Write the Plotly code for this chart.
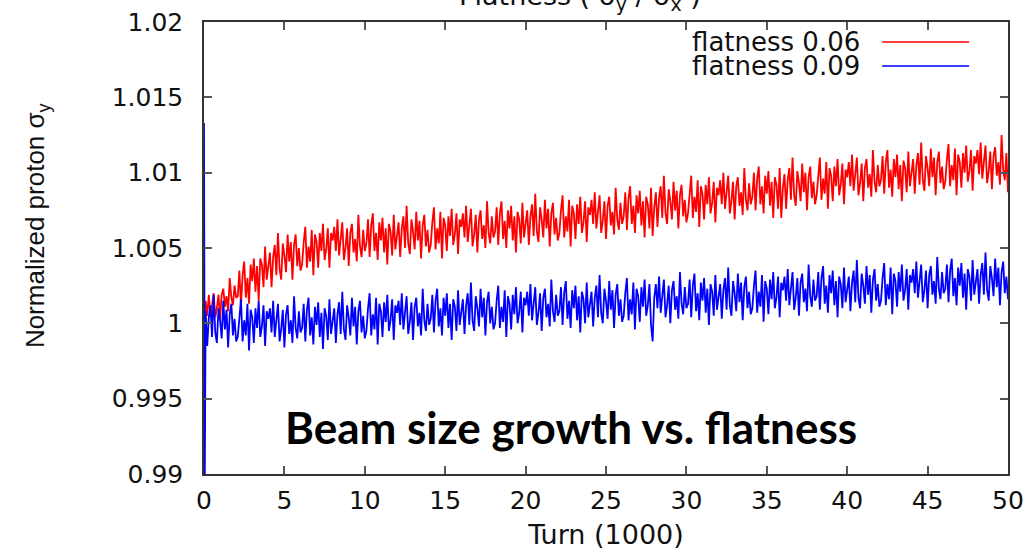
import plotly.graph_objects as go

# Turn (in units of 1000)
turns = [0.0, 0.05] + [round(0.1 * i, 1) for i in range(1, 501)]

red_y = [0.9900, 0.9995,
    1.0015, 1.0005, 1.0019, 1.0004, 1.0013, 1.0020, 1.0004, 1.0010, 1.0019, 1.0003, 1.0019, 1.0023, 1.0011, 1.0018, 1.0008, 1.0030, 1.0017, 1.0012, 1.0025, 1.0017,
    1.0018, 1.0035, 1.0011, 1.0032, 1.0041, 1.0017, 1.0030, 1.0013, 1.0039, 1.0028, 1.0043, 1.0021, 1.0038, 1.0015, 1.0043, 1.0039, 1.0024, 1.0051, 1.0029, 1.0040,
    1.0047, 1.0024, 1.0044, 1.0052, 1.0032, 1.0060, 1.0036, 1.0029, 1.0053, 1.0045, 1.0034, 1.0059, 1.0041, 1.0054, 1.0029, 1.0052, 1.0059, 1.0038, 1.0050, 1.0035,
    1.0039, 1.0054, 1.0064, 1.0037, 1.0051, 1.0041, 1.0062, 1.0032, 1.0059, 1.0054, 1.0037, 1.0060, 1.0048, 1.0066, 1.0042, 1.0049, 1.0063, 1.0037, 1.0060, 1.0055,
    1.0064, 1.0048, 1.0069, 1.0045, 1.0057, 1.0067, 1.0042, 1.0050, 1.0063, 1.0038, 1.0060, 1.0066, 1.0047, 1.0056, 1.0041, 1.0072, 1.0051, 1.0044, 1.0062, 1.0048,
    1.0053, 1.0069, 1.0044, 1.0065, 1.0073, 1.0048, 1.0060, 1.0042, 1.0067, 1.0055, 1.0070, 1.0047, 1.0063, 1.0039, 1.0066, 1.0061, 1.0045, 1.0072, 1.0049, 1.0059,
    1.0067, 1.0044, 1.0063, 1.0071, 1.0050, 1.0078, 1.0053, 1.0046, 1.0069, 1.0061, 1.0049, 1.0074, 1.0055, 1.0068, 1.0043, 1.0065, 1.0072, 1.0051, 1.0062, 1.0047,
    1.0052, 1.0067, 1.0077, 1.0049, 1.0063, 1.0053, 1.0074, 1.0043, 1.0070, 1.0065, 1.0048, 1.0071, 1.0058, 1.0076, 1.0052, 1.0059, 1.0073, 1.0046, 1.0069, 1.0064,
    1.0073, 1.0057, 1.0078, 1.0054, 1.0066, 1.0076, 1.0051, 1.0059, 1.0072, 1.0047, 1.0069, 1.0075, 1.0056, 1.0065, 1.0050, 1.0081, 1.0060, 1.0053, 1.0071, 1.0057,
    1.0061, 1.0077, 1.0052, 1.0073, 1.0081, 1.0056, 1.0068, 1.0050, 1.0075, 1.0063, 1.0078, 1.0055, 1.0071, 1.0047, 1.0074, 1.0069, 1.0053, 1.0080, 1.0057, 1.0067,
    1.0075, 1.0052, 1.0071, 1.0079, 1.0058, 1.0086, 1.0061, 1.0054, 1.0077, 1.0069, 1.0057, 1.0082, 1.0063, 1.0076, 1.0051, 1.0073, 1.0080, 1.0059, 1.0070, 1.0055,
    1.0060, 1.0075, 1.0085, 1.0057, 1.0071, 1.0061, 1.0082, 1.0051, 1.0078, 1.0073, 1.0056, 1.0079, 1.0066, 1.0084, 1.0060, 1.0067, 1.0081, 1.0054, 1.0077, 1.0072,
    1.0082, 1.0066, 1.0087, 1.0063, 1.0075, 1.0085, 1.0060, 1.0068, 1.0081, 1.0056, 1.0078, 1.0084, 1.0065, 1.0074, 1.0059, 1.0090, 1.0069, 1.0062, 1.0080, 1.0066,
    1.0071, 1.0087, 1.0062, 1.0083, 1.0091, 1.0066, 1.0078, 1.0060, 1.0085, 1.0073, 1.0088, 1.0065, 1.0081, 1.0057, 1.0084, 1.0079, 1.0063, 1.0090, 1.0058, 1.0077,
    1.0087, 1.0064, 1.0083, 1.0091, 1.0070, 1.0098, 1.0073, 1.0066, 1.0089, 1.0081, 1.0069, 1.0094, 1.0075, 1.0088, 1.0063, 1.0085, 1.0092, 1.0071, 1.0082, 1.0067,
    1.0073, 1.0088, 1.0098, 1.0070, 1.0084, 1.0074, 1.0095, 1.0064, 1.0091, 1.0086, 1.0069, 1.0092, 1.0079, 1.0097, 1.0073, 1.0080, 1.0094, 1.0067, 1.0090, 1.0085,
    1.0095, 1.0079, 1.0100, 1.0076, 1.0088, 1.0098, 1.0073, 1.0081, 1.0094, 1.0069, 1.0091, 1.0097, 1.0078, 1.0087, 1.0072, 1.0103, 1.0082, 1.0075, 1.0093, 1.0079,
    1.0084, 1.0100, 1.0075, 1.0096, 1.0104, 1.0079, 1.0091, 1.0073, 1.0098, 1.0086, 1.0101, 1.0078, 1.0094, 1.0070, 1.0097, 1.0092, 1.0076, 1.0103, 1.0070, 1.0090,
    1.0099, 1.0076, 1.0095, 1.0103, 1.0082, 1.0110, 1.0085, 1.0078, 1.0101, 1.0093, 1.0081, 1.0106, 1.0087, 1.0100, 1.0075, 1.0097, 1.0104, 1.0083, 1.0094, 1.0079,
    1.0085, 1.0100, 1.0110, 1.0082, 1.0096, 1.0086, 1.0107, 1.0076, 1.0103, 1.0098, 1.0081, 1.0104, 1.0091, 1.0109, 1.0085, 1.0092, 1.0106, 1.0079, 1.0102, 1.0097,
    1.0107, 1.0091, 1.0112, 1.0088, 1.0100, 1.0110, 1.0085, 1.0093, 1.0106, 1.0081, 1.0103, 1.0109, 1.0090, 1.0099, 1.0084, 1.0115, 1.0094, 1.0087, 1.0105, 1.0091,
    1.0095, 1.0111, 1.0086, 1.0107, 1.0115, 1.0090, 1.0102, 1.0084, 1.0109, 1.0097, 1.0112, 1.0089, 1.0105, 1.0081, 1.0108, 1.0103, 1.0087, 1.0114, 1.0091, 1.0101,
    1.0109, 1.0086, 1.0105, 1.0113, 1.0092, 1.0120, 1.0095, 1.0088, 1.0111, 1.0103, 1.0091, 1.0116, 1.0097, 1.0110, 1.0085, 1.0107, 1.0114, 1.0093, 1.0104, 1.0089,
    1.0094, 1.0109, 1.0119, 1.0091, 1.0105, 1.0095, 1.0116, 1.0085, 1.0112, 1.0107, 1.0090, 1.0113, 1.0100, 1.0118, 1.0094, 1.0101, 1.0115, 1.0088, 1.0111, 1.0106,
    1.0115, 1.0099, 1.0120, 1.0096, 1.0108, 1.0118, 1.0093, 1.0101, 1.0114, 1.0089, 1.0111, 1.0117, 1.0098, 1.0107, 1.0092, 1.0125, 1.0102, 1.0095, 1.0113, 1.0087]

blue_y = [1.0133, 0.9900,
    1.0008, 0.9985, 1.0004, 1.0012, 0.9991, 1.0019, 0.9994, 0.9987, 1.0010, 1.0002, 0.9990, 1.0015, 0.9996, 1.0009, 0.9984, 1.0006, 1.0013, 0.9992, 1.0003, 0.9988,
    0.9991, 1.0006, 1.0016, 0.9988, 1.0002, 0.9992, 1.0013, 0.9982, 1.0009, 1.0004, 0.9987, 1.0010, 0.9997, 1.0015, 0.9991, 0.9998, 1.0012, 0.9985, 1.0008, 1.0003,
    1.0010, 0.9994, 1.0015, 0.9991, 1.0003, 1.0013, 0.9988, 0.9996, 1.0009, 0.9984, 1.0006, 1.0012, 0.9993, 1.0002, 0.9987, 1.0018, 0.9997, 0.9990, 1.0008, 0.9994,
    0.9997, 1.0013, 0.9988, 1.0009, 1.0017, 0.9992, 1.0004, 0.9986, 1.0011, 0.9999, 1.0014, 0.9991, 1.0007, 0.9983, 1.0010, 1.0005, 0.9989, 1.0016, 0.9993, 1.0003,
    1.0010, 0.9987, 1.0006, 1.0014, 0.9993, 1.0021, 0.9996, 0.9989, 1.0012, 1.0004, 0.9992, 1.0017, 0.9998, 1.0011, 0.9986, 1.0008, 1.0015, 0.9994, 1.0005, 0.9990,
    0.9995, 1.0010, 1.0020, 0.9992, 1.0006, 0.9996, 1.0017, 0.9986, 1.0013, 1.0008, 0.9991, 1.0014, 1.0001, 1.0019, 0.9995, 1.0002, 1.0016, 0.9989, 1.0012, 1.0007,
    1.0015, 0.9999, 1.0020, 0.9996, 1.0008, 1.0018, 0.9993, 1.0001, 1.0014, 0.9989, 1.0011, 1.0017, 0.9998, 1.0007, 0.9992, 1.0023, 1.0002, 0.9995, 1.0013, 0.9999,
    1.0003, 1.0019, 0.9994, 1.0015, 1.0023, 0.9998, 1.0010, 0.9992, 1.0017, 1.0005, 1.0020, 0.9997, 1.0013, 0.9989, 1.0016, 1.0011, 0.9995, 1.0022, 0.9999, 1.0009,
    1.0016, 0.9993, 1.0012, 1.0020, 0.9999, 1.0027, 1.0002, 0.9995, 1.0018, 1.0010, 0.9998, 1.0023, 1.0004, 1.0017, 0.9992, 1.0014, 1.0021, 1.0000, 1.0011, 0.9996,
    1.0000, 1.0015, 1.0025, 0.9997, 1.0011, 1.0001, 1.0022, 0.9991, 1.0018, 1.0013, 0.9996, 1.0019, 1.0006, 1.0024, 1.0000, 1.0007, 1.0021, 0.9994, 1.0017, 1.0012,
    1.0021, 1.0005, 1.0026, 1.0002, 1.0014, 1.0024, 0.9999, 1.0007, 1.0020, 0.9995, 1.0017, 1.0023, 1.0004, 1.0013, 0.9998, 1.0029, 1.0008, 1.0001, 1.0019, 1.0005,
    1.0008, 1.0024, 0.9999, 1.0020, 1.0028, 1.0003, 1.0015, 0.9997, 1.0022, 1.0010, 1.0025, 1.0002, 1.0018, 0.9994, 1.0021, 1.0016, 1.0000, 1.0027, 1.0004, 1.0014,
    1.0021, 0.9998, 1.0017, 1.0025, 1.0004, 1.0032, 1.0007, 1.0000, 1.0023, 1.0015, 1.0003, 1.0028, 1.0009, 1.0022, 0.9997, 1.0019, 1.0026, 1.0005, 1.0016, 1.0001,
    1.0005, 1.0020, 1.0030, 1.0002, 1.0016, 1.0006, 1.0027, 0.9996, 1.0023, 1.0018, 1.0001, 1.0024, 1.0011, 1.0029, 1.0005, 1.0012, 1.0026, 0.9999, 0.9988, 1.0017,
    1.0026, 1.0010, 1.0031, 1.0007, 1.0019, 1.0029, 1.0004, 1.0012, 1.0025, 1.0000, 1.0022, 1.0028, 1.0009, 1.0018, 1.0003, 1.0034, 1.0013, 1.0006, 1.0024, 1.0010,
    1.0013, 1.0029, 1.0004, 1.0025, 1.0033, 1.0008, 1.0020, 1.0002, 1.0027, 1.0015, 1.0030, 1.0007, 1.0023, 0.9999, 1.0026, 1.0021, 1.0005, 1.0032, 1.0009, 1.0019,
    1.0026, 1.0003, 1.0022, 1.0030, 1.0009, 1.0037, 1.0012, 1.0005, 1.0028, 1.0020, 1.0008, 1.0033, 1.0014, 1.0027, 1.0002, 1.0024, 1.0031, 1.0010, 1.0021, 1.0006,
    1.0010, 1.0025, 1.0035, 1.0007, 1.0021, 1.0011, 1.0032, 1.0001, 1.0028, 1.0023, 1.0006, 1.0029, 1.0016, 1.0034, 1.0010, 1.0017, 1.0031, 1.0004, 1.0027, 1.0022,
    1.0031, 1.0015, 1.0036, 1.0012, 1.0024, 1.0034, 1.0009, 1.0017, 1.0030, 1.0005, 1.0027, 1.0033, 1.0014, 1.0023, 1.0008, 1.0039, 1.0018, 1.0011, 1.0029, 1.0015,
    1.0018, 1.0034, 1.0009, 1.0030, 1.0038, 1.0013, 1.0025, 1.0007, 1.0032, 1.0020, 1.0035, 1.0012, 1.0028, 1.0004, 1.0031, 1.0026, 1.0010, 1.0037, 1.0014, 1.0024,
    1.0031, 1.0008, 1.0027, 1.0035, 1.0014, 1.0042, 1.0017, 1.0010, 1.0033, 1.0025, 1.0013, 1.0038, 1.0019, 1.0032, 1.0007, 1.0029, 1.0036, 1.0015, 1.0026, 1.0011,
    1.0015, 1.0030, 1.0040, 1.0012, 1.0026, 1.0016, 1.0037, 1.0006, 1.0033, 1.0028, 1.0011, 1.0034, 1.0021, 1.0039, 1.0015, 1.0022, 1.0036, 1.0009, 1.0032, 1.0027,
    1.0036, 1.0020, 1.0041, 1.0017, 1.0029, 1.0039, 1.0014, 1.0022, 1.0035, 1.0010, 1.0032, 1.0038, 1.0019, 1.0028, 1.0013, 1.0044, 1.0023, 1.0016, 1.0034, 1.0020,
    1.0023, 1.0039, 1.0014, 1.0035, 1.0043, 1.0018, 1.0030, 1.0012, 1.0037, 1.0025, 1.0040, 1.0017, 1.0033, 1.0009, 1.0036, 1.0031, 1.0015, 1.0042, 1.0019, 1.0029,
    1.0036, 1.0013, 1.0032, 1.0040, 1.0019, 1.0047, 1.0022, 1.0015, 1.0038, 1.0030, 1.0018, 1.0043, 1.0024, 1.0037, 1.0012, 1.0034, 1.0041, 1.0020, 1.0031, 1.0016]

series_names = ["flatness 0.06", "flatness 0.09"]
series_colors = ["#ff0000", "#0000ff"]
x_ticks = [0, 5, 10, 15, 20, 25, 30, 35, 40, 45, 50]
y_ticks = [0.99, 0.995, 1.0, 1.005, 1.01, 1.015, 1.02]
y_tick_text = ["0.99", "0.995", "1", "1.005", "1.01", "1.015", "1.02"]

fig = go.Figure()
for name, ys, col in zip(series_names, [red_y, blue_y], series_colors):
    fig.add_trace(go.Scatter(x=turns, y=ys, mode="lines", name=name,
                             line=dict(color=col, width=1.8), showlegend=False))

font_main = "DejaVu Sans"
axis_common = dict(showline=True, linecolor="#333333", linewidth=1.5, automargin=False,
                   mirror="ticks", ticks="inside", ticklen=8, tickwidth=1.5,
                   tickcolor="#555555", showgrid=False, zeroline=False,
                   tickfont=dict(family=font_main, size=25, color="#111111"))

fig.update_layout(
    width=1033, height=550,
    margin=dict(l=204, r=25, t=22, b=76),
    paper_bgcolor="white", plot_bgcolor="white",
    xaxis=dict(range=[0, 50], tickvals=x_ticks, ticklabelstandoff=3,
               title=dict(text="Turn (1000)", font=dict(family=font_main, size=27, color="#111111"),
                          standoff=15),
               **axis_common),
    yaxis=dict(range=[0.99, 1.02], tickvals=y_ticks, ticktext=y_tick_text,
               ticklabelstandoff=14, **axis_common),
)

# y-axis title (placed as in the reference, slightly above centre)
fig.add_annotation(xref="paper", yref="paper", x=-0.2075, y=0.551, xanchor="center",
                   yanchor="middle", textangle=-90, showarrow=False,
                   text="Normalized proton σ<sub>y</sub>",
                   font=dict(family="Liberation Sans", size=26, color="#111111"))

# gnuplot-style key (text right-aligned, sample line to the right)
key_y = [0.9558, 0.9027]
for name, col, ky in zip(series_names, series_colors, key_y):
    fig.add_annotation(xref="paper", yref="paper", x=0.8186, y=ky, xanchor="right",
                       yanchor="middle", text=name, showarrow=False,
                       font=dict(family=font_main, size=26, color="#111111"))
    fig.add_shape(type="line", xref="paper", yref="paper", x0=0.8435, x1=0.9516,
                  y0=ky, y1=ky, line=dict(color=col, width=1.5))

# title partly cut off at the top of the image
fig.add_annotation(xref="paper", yref="paper", x=0.468, y=1.011, xanchor="center",
                   yanchor="bottom", showarrow=False,
                   text="Flatness ( σ<sub>y</sub> / σ<sub>x</sub> )",
                   font=dict(family=font_main, size=27, color="#111111"))

fig.add_annotation(xref="paper", yref="paper", x=0.456, y=0.104, xanchor="center",
                   yanchor="middle", showarrow=False,
                   text="<b>Beam size growth vs. flatness</b>",
                   font=dict(family="Lato", size=44, color="#000000"))

fig.write_html("out.html")
